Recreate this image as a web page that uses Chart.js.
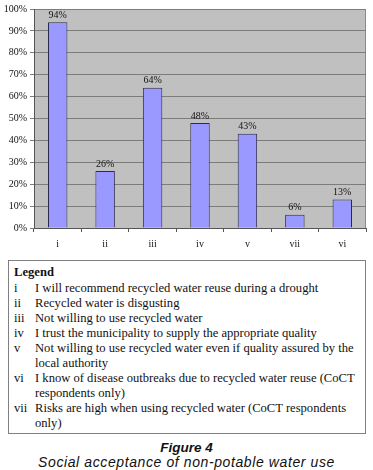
<!DOCTYPE html>
<html>
<head>
<meta charset="utf-8">
<script src="https://cdn.jsdelivr.net/npm/chart.js@4/dist/chart.umd.min.js"></script>
<style>
  body { margin: 0; width: 373px; height: 470px; background: #fff; position: relative; overflow: hidden; }
  #chartBox { position: absolute; left: 0; top: 0; width: 373px; height: 250px; }
  #legend {
    position: absolute; left: 8px; top: 260px; width: 358px; height: 174px;
    box-sizing: border-box; border: 1px solid #808080;
    font-family: "Liberation Serif", "Times New Roman", serif; font-size: 12.6px; line-height: 15.1px;
    color: #111; padding: 3.5px 4px 0 5px;
  }
  #legend .title { font-weight: bold; margin-bottom: 1px; }
  #legend .row { display: flex; }
  #legend .num { width: 21px; flex: none; }
  #legend .txt { flex: 1; white-space: pre-line; }
  #caption {
    position: absolute; left: 0; top: 440px; width: 373px; text-align: center;
    font-family: "Liberation Sans", Arial, sans-serif; font-style: italic; font-size: 14px; line-height: 14px; color: #111;
  }
  #caption b { font-size: 13.5px; }
  #caption span { letter-spacing: 0.6px; }
</style>
</head>
<body>
<div id="chartBox"><canvas id="acceptChart"></canvas></div>
<div id="legend"></div>
<div id="caption"><b>Figure 4</b><br><span>Social acceptance of non-potable water use</span></div>
<script>
// ========== 数据 ==========
const categories = ['i', 'ii', 'iii', 'iv', 'v', 'vii', 'vi'];
const acceptance = [94, 26, 64, 48, 43, 6, 13];
const yTicks = [0, 10, 20, 30, 40, 50, 60, 70, 80, 90, 100];
const legendKeys = ['i', 'ii', 'iii', 'iv', 'v', 'vi', 'vii'];
const legendTexts = [
    'I will recommend recycled water reuse during a drought',
    'Recycled water is disgusting',
    'Not willing to use recycled water',
    'I trust the municipality to supply the appropriate quality',
    'Not willing to use recycled water even if quality assured by the\nlocal authority',
    'I know of disease outbreaks due to recycled water reuse (CoCT\nrespondents only)',
    'Risks are high when using recycled water (CoCT respondents\nonly)'
];

// ========== 图例 ==========
function buildLegend() {
    const box = document.getElementById('legend');
    let html = '<div class="title">Legend</div>';
    legendKeys.forEach((k, i) => {
        html += `<div class="row"><div class="num">${k}</div><div class="txt">${legendTexts[i]}</div></div>`;
    });
    box.innerHTML = html;
}

// 绘图区灰色背景 + 边框
const plotBg = {
    id: 'plotBg',
    beforeDraw(chart) {
        const { ctx, chartArea: a } = chart;
        ctx.save();
        ctx.fillStyle = '#c0c0c0';
        ctx.fillRect(a.left, a.top, a.right - a.left, a.bottom - a.top);
        ctx.strokeStyle = '#8a8a8a';
        ctx.lineWidth = 1;
        ctx.strokeRect(a.left + 0.5, a.top + 0.5, a.right - a.left - 1, a.bottom - a.top);
        ctx.restore();
    }
};

// 柱顶百分比标签
const barLabels = {
    id: 'barLabels',
    afterDatasetsDraw(chart) {
        const { ctx } = chart;
        const meta = chart.getDatasetMeta(0);
        ctx.save();
        ctx.font = '10px "Liberation Serif", serif';
        ctx.fillStyle = '#111';
        ctx.textAlign = 'center';
        ctx.textBaseline = 'bottom';
        meta.data.forEach((bar, i) => {
            ctx.fillText(acceptance[i] + '%', bar.x, bar.y - 2);
        });
        ctx.restore();
    }
};

function initChart() {
    const ctx = document.getElementById('acceptChart').getContext('2d');
    new Chart(ctx, {
        type: 'bar',
        data: {
            labels: categories,
            datasets: [{
                data: acceptance,
                backgroundColor: '#9999ff',
                borderColor: '#2a2a50',
                borderWidth: 1,
                barPercentage: 0.41,
                categoryPercentage: 1
            }]
        },
        options: {
            responsive: true,
            maintainAspectRatio: false,
            animation: false,
            layout: { padding: { top: 8, right: 7, left: 0, bottom: 0 } },
            plugins: { legend: { display: false }, tooltip: { enabled: false } },
            scales: {
                x: {
                    offset: true,
                    grid: { offset: true, drawOnChartArea: false, drawTicks: true, tickLength: 4, color: '#555' },
                    border: { color: '#555' },
                    ticks: { color: '#111', font: { family: '"Liberation Serif", serif', size: 10 }, padding: 6 },
                    afterFit(scale) { scale.height = 22; }
                },
                y: {
                    min: 0, max: 100,
                    afterBuildTicks(scale) { scale.ticks = yTicks.map(v => ({ value: v })); },
                    grid: { color: '#7c7c7c', tickLength: 4 },
                    border: { color: '#555' },
                    ticks: {
                        color: '#111', padding: 3,
                        font: { family: '"Liberation Serif", serif', size: 10 },
                        callback: v => v + '%'
                    },
                    afterFit(scale) { scale.width = 34; }
                }
            }
        },
        plugins: [plotBg, barLabels]
    });
}

buildLegend();
initChart();
</script>
</body>
</html>
